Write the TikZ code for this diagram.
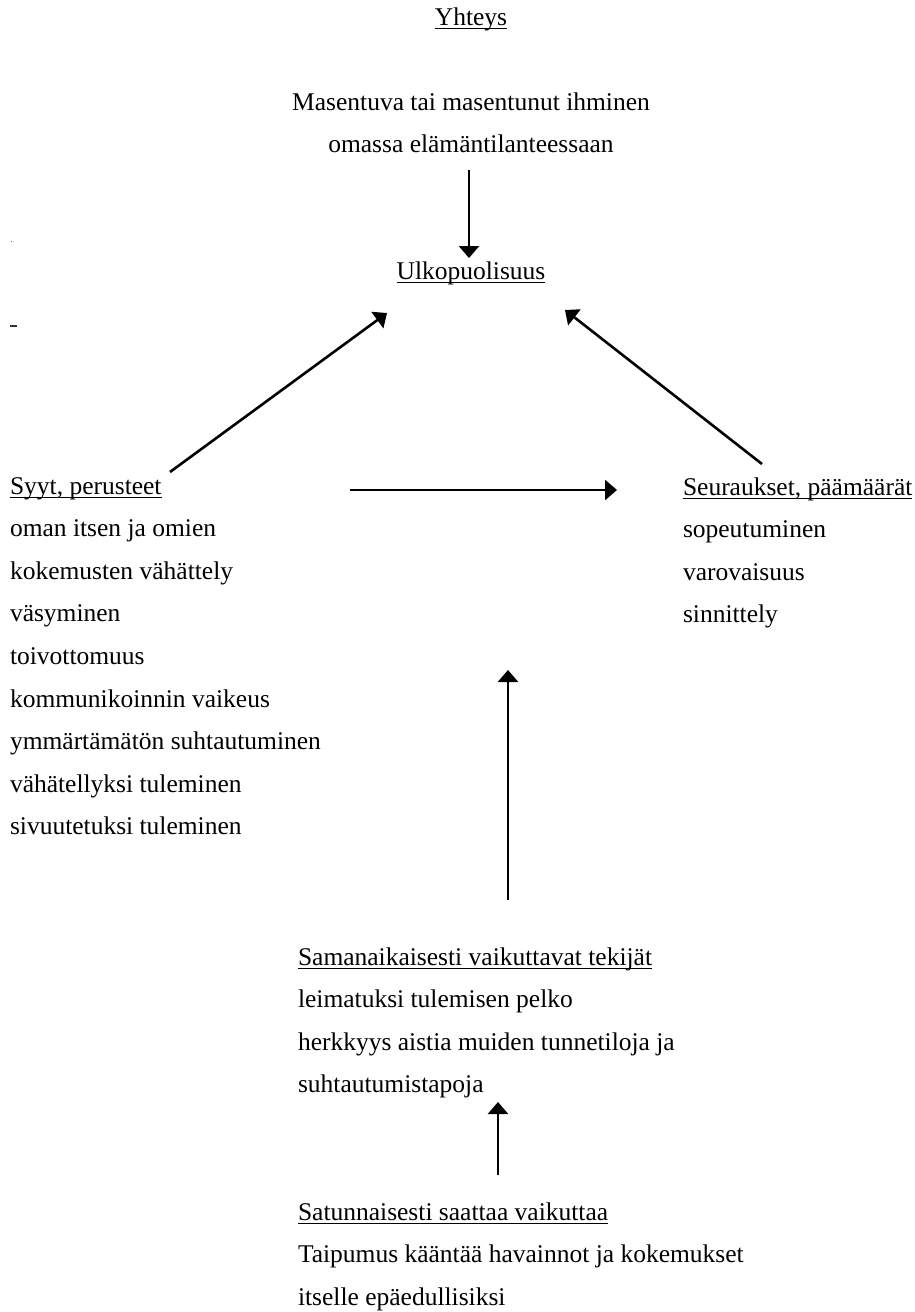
\documentclass[tikz,border=0pt]{standalone}
\usepackage{fontspec}
\setmainfont{Liberation Serif}
\usetikzlibrary{arrows.meta}

% underline drawn at a fixed depth below the baseline
\newcommand\ulin[1]{\setbox0=\hbox{#1}\rlap{\rule[-4pt]{\wd0}{1.3pt}}\box0}

% multi-line nodes sit on the baseline of their last line
\tikzset{
  txt/.style={inner sep=0pt, outer sep=0pt,
    font=\fontsize{25.5}{42.6}\selectfont},
  blockl/.style={txt, align=left, anchor=base west},
  blockc/.style={txt, align=center, anchor=base},
  link/.style={line width=2.6pt, -{Triangle[length=12pt,width=20pt]}},
}

\begin{document}
\begin{tikzpicture}[x=1pt, y=-1pt]
\useasboundingbox (0,0) rectangle (915,1312);

% text blocks
\node[blockc] (yhteys) at (471,25) {\ulin{Yhteys}};
\node[blockc] (person) at (471,152.6)
  {Masentuva tai masentunut ihminen\\omassa elämäntilanteessaan};
\node[blockc] (ulko) at (471,279) {\ulin{Ulkopuolisuus}};

\node[blockl] (syyt) at (10,834.8) {\ulin{Syyt, perusteet}\\
  oman itsen ja omien\\
  kokemusten vähättely\\
  väsyminen\\
  toivottomuus\\
  kommunikoinnin vaikeus\\
  ymmärtämätön suhtautuminen\\
  vähätellyksi tuleminen\\
  sivuutetuksi tuleminen};

\node[blockl] (seur) at (683,622.8) {\ulin{Seuraukset, päämäärät}\\
  sopeutuminen\\
  varovaisuus\\
  sinnittely};

\node[blockl] (saman) at (298,1092.8) {\ulin{Samanaikaisesti vaikuttavat tekijät}\\
  leimatuksi tulemisen pelko\\
  herkkyys aistia muiden tunnetiloja ja\\
  suhtautumistapoja};

\node[blockl] (satun) at (298,1305.2) {\ulin{Satunnaisesti saattaa vaikuttaa}\\
  Taipumus kääntää havainnot ja kokemukset\\
  itselle epäedullisiksi};

% connector end points
\coordinate (person-out) at (469,170);
\coordinate (ulko-top)   at (469,258);
\coordinate (syyt-out)   at (170,472);
\coordinate (ulko-left)  at (387,313);
\coordinate (seur-out)   at (762,464);
\coordinate (ulko-right) at (565,310);
\coordinate (syyt-right) at (350,490);
\coordinate (seur-left)  at (617,490);
\coordinate (saman-out)  at (508,900);
\coordinate (mid-in)     at (508,670);
\coordinate (satun-out)  at (498,1175);
\coordinate (saman-in)   at (498,1102);

% connectors
\draw[link] (person-out) -- (ulko-top);
\draw[link] (syyt-out) -- (ulko-left);
\draw[link] (seur-out) -- (ulko-right);
\draw[link] (syyt-right) -- (seur-left);
\draw[link] (saman-out) -- (mid-in);
\draw[link] (satun-out) -- (saman-in);

% small marks in the left margin
\draw[line width=1.2pt, black!80] (10,326) -- (17,326);
\fill[black!60] (10.5,240.5) rectangle (12,242);
\end{tikzpicture}
\end{document}
